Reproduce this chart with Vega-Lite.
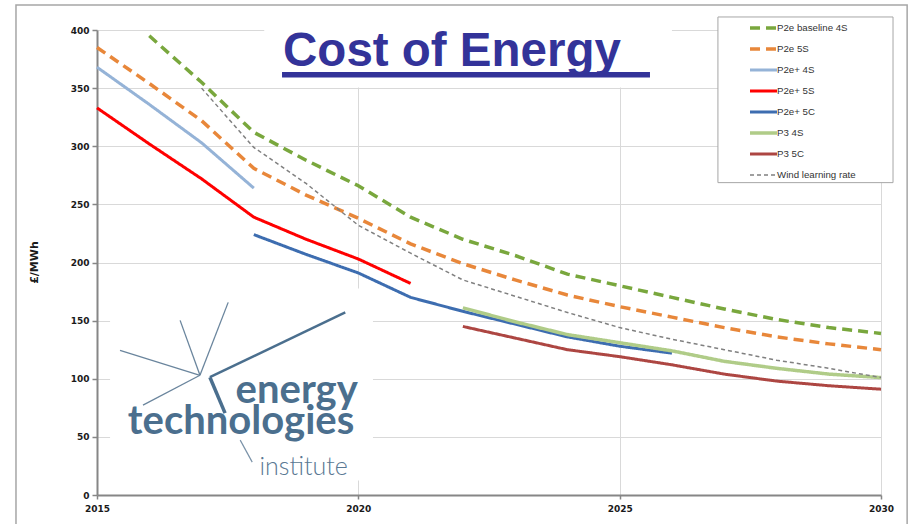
{
  "$schema": "https://vega.github.io/schema/vega-lite/v6.json",
  "width": 784,
  "height": 465,
  "autosize": {"type": "none"},
  "padding": {"left": 97, "top": 30, "right": 29, "bottom": 29},
  "background": "white",
  "config": {"view": {"stroke": null}, "font": "DejaVu Sans"},
  "datasets": {
    "cost": [
      {"series": "P2e baseline 4S", "year": 2016, "value": 395},
      {"series": "P2e baseline 4S", "year": 2017, "value": 355},
      {"series": "P2e baseline 4S", "year": 2018, "value": 312},
      {"series": "P2e baseline 4S", "year": 2019, "value": 288},
      {"series": "P2e baseline 4S", "year": 2020, "value": 266},
      {"series": "P2e baseline 4S", "year": 2021, "value": 239},
      {"series": "P2e baseline 4S", "year": 2022, "value": 220},
      {"series": "P2e baseline 4S", "year": 2023, "value": 206},
      {"series": "P2e baseline 4S", "year": 2024, "value": 190},
      {"series": "P2e baseline 4S", "year": 2025, "value": 180},
      {"series": "P2e baseline 4S", "year": 2026, "value": 170},
      {"series": "P2e baseline 4S", "year": 2027, "value": 160},
      {"series": "P2e baseline 4S", "year": 2028, "value": 151},
      {"series": "P2e baseline 4S", "year": 2029, "value": 144},
      {"series": "P2e baseline 4S", "year": 2030, "value": 139},
      {"series": "P2e 5S", "year": 2015, "value": 385},
      {"series": "P2e 5S", "year": 2016, "value": 354},
      {"series": "P2e 5S", "year": 2017, "value": 322},
      {"series": "P2e 5S", "year": 2018, "value": 281},
      {"series": "P2e 5S", "year": 2019, "value": 258},
      {"series": "P2e 5S", "year": 2020, "value": 238},
      {"series": "P2e 5S", "year": 2021, "value": 216},
      {"series": "P2e 5S", "year": 2022, "value": 199},
      {"series": "P2e 5S", "year": 2023, "value": 185},
      {"series": "P2e 5S", "year": 2024, "value": 172},
      {"series": "P2e 5S", "year": 2025, "value": 162},
      {"series": "P2e 5S", "year": 2026, "value": 153},
      {"series": "P2e 5S", "year": 2027, "value": 144},
      {"series": "P2e 5S", "year": 2028, "value": 136},
      {"series": "P2e 5S", "year": 2029, "value": 130},
      {"series": "P2e 5S", "year": 2030, "value": 125},
      {"series": "P2e+ 4S", "year": 2015, "value": 368},
      {"series": "P2e+ 4S", "year": 2016, "value": 336},
      {"series": "P2e+ 4S", "year": 2017, "value": 303},
      {"series": "P2e+ 4S", "year": 2018, "value": 264},
      {"series": "P2e+ 5S", "year": 2015, "value": 333},
      {"series": "P2e+ 5S", "year": 2016, "value": 302},
      {"series": "P2e+ 5S", "year": 2017, "value": 272},
      {"series": "P2e+ 5S", "year": 2018, "value": 239},
      {"series": "P2e+ 5S", "year": 2019, "value": 220},
      {"series": "P2e+ 5S", "year": 2020, "value": 203},
      {"series": "P2e+ 5S", "year": 2021, "value": 182},
      {"series": "P2e+ 5C", "year": 2018, "value": 224},
      {"series": "P2e+ 5C", "year": 2019, "value": 207},
      {"series": "P2e+ 5C", "year": 2020, "value": 191},
      {"series": "P2e+ 5C", "year": 2021, "value": 170},
      {"series": "P2e+ 5C", "year": 2022, "value": 158},
      {"series": "P2e+ 5C", "year": 2023, "value": 147},
      {"series": "P2e+ 5C", "year": 2024, "value": 136},
      {"series": "P2e+ 5C", "year": 2025, "value": 128},
      {"series": "P2e+ 5C", "year": 2026, "value": 122},
      {"series": "P3 4S", "year": 2022, "value": 161},
      {"series": "P3 4S", "year": 2023, "value": 149},
      {"series": "P3 4S", "year": 2024, "value": 138},
      {"series": "P3 4S", "year": 2025, "value": 131},
      {"series": "P3 4S", "year": 2026, "value": 124},
      {"series": "P3 4S", "year": 2027, "value": 115},
      {"series": "P3 4S", "year": 2028, "value": 109},
      {"series": "P3 4S", "year": 2029, "value": 104},
      {"series": "P3 4S", "year": 2030, "value": 101},
      {"series": "P3 5C", "year": 2022, "value": 145},
      {"series": "P3 5C", "year": 2023, "value": 135},
      {"series": "P3 5C", "year": 2024, "value": 125},
      {"series": "P3 5C", "year": 2025, "value": 119},
      {"series": "P3 5C", "year": 2026, "value": 112},
      {"series": "P3 5C", "year": 2027, "value": 104},
      {"series": "P3 5C", "year": 2028, "value": 98},
      {"series": "P3 5C", "year": 2029, "value": 94},
      {"series": "P3 5C", "year": 2030, "value": 91},
      {"series": "Wind learning rate", "year": 2017, "value": 350},
      {"series": "Wind learning rate", "year": 2018, "value": 299},
      {"series": "Wind learning rate", "year": 2019, "value": 268},
      {"series": "Wind learning rate", "year": 2020, "value": 232},
      {"series": "Wind learning rate", "year": 2021, "value": 208},
      {"series": "Wind learning rate", "year": 2022, "value": 185},
      {"series": "Wind learning rate", "year": 2023, "value": 171},
      {"series": "Wind learning rate", "year": 2024, "value": 157},
      {"series": "Wind learning rate", "year": 2025, "value": 144},
      {"series": "Wind learning rate", "year": 2026, "value": 134},
      {"series": "Wind learning rate", "year": 2027, "value": 125},
      {"series": "Wind learning rate", "year": 2028, "value": 116},
      {"series": "Wind learning rate", "year": 2029, "value": 109},
      {"series": "Wind learning rate", "year": 2030, "value": 101}
    ]
  },
  "layer": [
    {
      "data": {"name": "cost"},
      "mark": {"type": "line", "strokeCap": "butt", "opacity": 0},
      "encoding": {
        "x": {
          "field": "year", "type": "quantitative",
          "scale": {"domain": [2015, 2030], "nice": false, "zero": false},
          "axis": {
            "values": [2015, 2020, 2025, 2030], "format": "d", "title": null, "labelFlush": false,
            "labelFont": "DejaVu Sans", "labelFontWeight": "bold", "labelFontSize": 9, "labelColor": "#1a1a1a",
            "labelPadding": 5, "domainColor": "#868686", "domainWidth": 2,
            "tickColor": "#868686", "tickSize": 4, "tickWidth": 1.5,
            "grid": true, "gridColor": "#d9d9d9", "gridWidth": 1
          }
        },
        "y": {
          "field": "value", "type": "quantitative",
          "scale": {"domain": [0, 400], "nice": false},
          "axis": {
            "values": [0, 50, 100, 150, 200, 250, 300, 350, 400], "title": "£/MWh",
            "titleFont": "DejaVu Sans", "titleFontWeight": "bold", "titleFontSize": 11, "titleColor": "#1a1a1a",
            "titleX": -63, "titleY": 232, "titleAngle": -90, "titleAlign": "center", "titleBaseline": "middle",
            "labelFont": "DejaVu Sans", "labelFontWeight": "bold", "labelFontSize": 9, "labelColor": "#1a1a1a",
            "labelPadding": 3, "domainColor": "#868686", "domainWidth": 2,
            "tickColor": "#868686", "tickSize": 5, "tickWidth": 1.5,
            "grid": true, "gridColor": "#d9d9d9", "gridWidth": 1
          }
        },
        "detail": {"field": "series", "type": "nominal"}
      }
    },
    {
      "data": {"values": [{}]},
      "mark": {"type": "rect", "fillOpacity": 0, "stroke": "#a6a6a6", "strokeWidth": 1.5},
      "encoding": {
        "x": {"datum": 2013.45, "type": "quantitative"},
        "x2": {"datum": 2030.5},
        "y": {"datum": 421.5, "type": "quantitative"},
        "y2": {"datum": -40}
      }
    },
    {
      "data": {"values": [{}]},
      "mark": {"type": "rect", "fill": "white"},
      "encoding": {
        "x": {"datum": 2018.2, "type": "quantitative"},
        "x2": {"datum": 2026.0},
        "y": {"datum": 412, "type": "quantitative"},
        "y2": {"datum": 350.5}
      }
    },
    {
      "data": {"values": [{}]},
      "mark": {"type": "rect", "fill": "white"},
      "encoding": {
        "x": {"datum": 2015.25, "type": "quantitative"},
        "x2": {"datum": 2020.28},
        "y": {"datum": 177.7, "type": "quantitative"},
        "y2": {"datum": 12.5}
      }
    },
    {
      "data": {"values": [{}]},
      "mark": {"type": "rect", "fill": "white", "stroke": "#a6a6a6", "strokeWidth": 1},
      "encoding": {
        "x": {"datum": 2026.88, "type": "quantitative"},
        "x2": {"datum": 2030.23},
        "y": {"datum": 411.2, "type": "quantitative"},
        "y2": {"datum": 268.7}
      }
    },
    {
      "data": {"name": "cost"},
      "mark": {"type": "line", "strokeCap": "butt"},
      "encoding": {
        "x": {"field": "year", "type": "quantitative"},
        "y": {"field": "value", "type": "quantitative"},
        "color": {
          "field": "series", "type": "nominal",
          "scale": {
            "domain": ["P2e baseline 4S", "P2e 5S", "P2e+ 4S", "P2e+ 5S", "P2e+ 5C", "P3 4S", "P3 5C", "Wind learning rate"],
            "range": ["#79a73d", "#e8873a", "#95b3d7", "#ff0000", "#3d6db0", "#b0cc88", "#ad4642", "#808080"]
          },
          "legend": {
            "title": null, "orient": "none", "legendX": 651, "legendY": -12.3,
            "symbolType": "stroke", "symbolSize": 729, "padding": 0, "rowPadding": 0, "clipHeight": 20.4,
            "labelOffset": -2, "symbolOffset": 0,
            "labelFont": "Liberation Sans", "labelFontSize": 9.7, "labelColor": "#333333"
          }
        },
        "strokeDash": {
          "field": "series", "type": "nominal",
          "scale": {
            "domain": ["P2e baseline 4S", "P2e 5S", "P2e+ 4S", "P2e+ 5S", "P2e+ 5C", "P3 4S", "P3 5C", "Wind learning rate"],
            "range": [[10, 6], [10, 6], [1, 0], [1, 0], [1, 0], [1, 0], [1, 0], [4, 3]]
          },
          "legend": {
            "title": null, "orient": "none", "legendX": 651, "legendY": -12.3,
            "symbolType": "stroke", "symbolSize": 729, "padding": 0, "rowPadding": 0, "clipHeight": 20.4,
            "labelOffset": -2, "symbolOffset": 0,
            "labelFont": "Liberation Sans", "labelFontSize": 9.7, "labelColor": "#333333"
          }
        },
        "strokeWidth": {
          "field": "series", "type": "nominal",
          "scale": {
            "type": "ordinal",
            "domain": ["P2e baseline 4S", "P2e 5S", "P2e+ 4S", "P2e+ 5S", "P2e+ 5C", "P3 4S", "P3 5C", "Wind learning rate"],
            "range": [3.5, 3.5, 3, 3, 3, 3.5, 3, 1.5]
          },
          "legend": {
            "title": null, "orient": "none", "legendX": 651, "legendY": -12.3,
            "symbolType": "stroke", "symbolSize": 729, "padding": 0, "rowPadding": 0, "clipHeight": 20.4,
            "labelOffset": -2, "symbolOffset": 0,
            "labelFont": "Liberation Sans", "labelFontSize": 9.7, "labelColor": "#333333"
          }
        }
      }
    },
    {
      "data": {"values": [{}]},
      "mark": {"type": "rule", "color": "#6a859d", "strokeWidth": 1.3},
      "encoding": {"x": {"datum": 2015.44, "type": "quantitative"}, "y": {"datum": 124.5, "type": "quantitative"}, "x2": {"datum": 2016.97}, "y2": {"datum": 103}}
    },
    {
      "data": {"values": [{}]},
      "mark": {"type": "rule", "color": "#6a859d", "strokeWidth": 1.3},
      "encoding": {"x": {"datum": 2016.59, "type": "quantitative"}, "y": {"datum": 150.2, "type": "quantitative"}, "x2": {"datum": 2016.97}, "y2": {"datum": 103}}
    },
    {
      "data": {"values": [{}]},
      "mark": {"type": "rule", "color": "#6a859d", "strokeWidth": 1.3},
      "encoding": {"x": {"datum": 2017.51, "type": "quantitative"}, "y": {"datum": 165.7, "type": "quantitative"}, "x2": {"datum": 2016.97}, "y2": {"datum": 103}}
    },
    {
      "data": {"values": [{}]},
      "mark": {"type": "rule", "color": "#6a859d", "strokeWidth": 1.3},
      "encoding": {"x": {"datum": 2015.88, "type": "quantitative"}, "y": {"datum": 77.3, "type": "quantitative"}, "x2": {"datum": 2016.97}, "y2": {"datum": 103}}
    },
    {
      "data": {"values": [{}]},
      "mark": {"type": "rule", "color": "#4b6f8e", "strokeWidth": 2.5},
      "encoding": {"x": {"datum": 2017.16, "type": "quantitative"}, "y": {"datum": 101.3, "type": "quantitative"}, "x2": {"datum": 2019.75}, "y2": {"datum": 157.1}}
    },
    {
      "data": {"values": [{}]},
      "mark": {"type": "rule", "color": "#4b6f8e", "strokeWidth": 3.5},
      "encoding": {"x": {"datum": 2017.16, "type": "quantitative"}, "y": {"datum": 101.3, "type": "quantitative"}, "x2": {"datum": 2017.45}, "y2": {"datum": 70.4}}
    },
    {
      "data": {"values": [{}]},
      "mark": {"type": "rule", "color": "#7a92a8", "strokeWidth": 1.2},
      "encoding": {"x": {"datum": 2017.74, "type": "quantitative"}, "y": {"datum": 47.2, "type": "quantitative"}, "x2": {"datum": 2017.97}, "y2": {"datum": 28.3}}
    },
    {
      "data": {"values": [{}]},
      "mark": {"type": "text", "text": "energy", "font": "Lato", "fontWeight": "bold", "fontSize": 40, "color": "#4b6f8e", "align": "right", "baseline": "alphabetic"},
      "encoding": {"x": {"datum": 2019.99, "type": "quantitative"}, "y": {"datum": 79.5, "type": "quantitative"}}
    },
    {
      "data": {"values": [{}]},
      "mark": {"type": "text", "text": "technologies", "font": "Lato", "fontWeight": "bold", "fontSize": 40, "color": "#4b6f8e", "align": "left", "baseline": "alphabetic"},
      "encoding": {"x": {"datum": 2015.59, "type": "quantitative"}, "y": {"datum": 52.4, "type": "quantitative"}}
    },
    {
      "data": {"values": [{}]},
      "mark": {"type": "text", "text": "institute", "font": "Lato", "fontWeight": 300, "fontSize": 25, "color": "#5a7893", "align": "right", "baseline": "alphabetic"},
      "encoding": {"x": {"datum": 2019.8, "type": "quantitative"}, "y": {"datum": 17.2, "type": "quantitative"}}
    },
    {
      "data": {"values": [{}]},
      "mark": {"type": "text", "text": "Cost of Energy", "font": "Liberation Sans", "fontWeight": "bold", "fontSize": 47.5, "color": "#333399", "align": "left", "baseline": "alphabetic"},
      "encoding": {"x": {"datum": 2018.56, "type": "quantitative"}, "y": {"datum": 369.1, "type": "quantitative"}}
    },
    {
      "data": {"values": [{}]},
      "mark": {"type": "rule", "color": "#333399", "strokeWidth": 5.5},
      "encoding": {"x": {"datum": 2018.54, "type": "quantitative"}, "x2": {"datum": 2025.58}, "y": {"datum": 361.4, "type": "quantitative"}}
    }
  ]
}
